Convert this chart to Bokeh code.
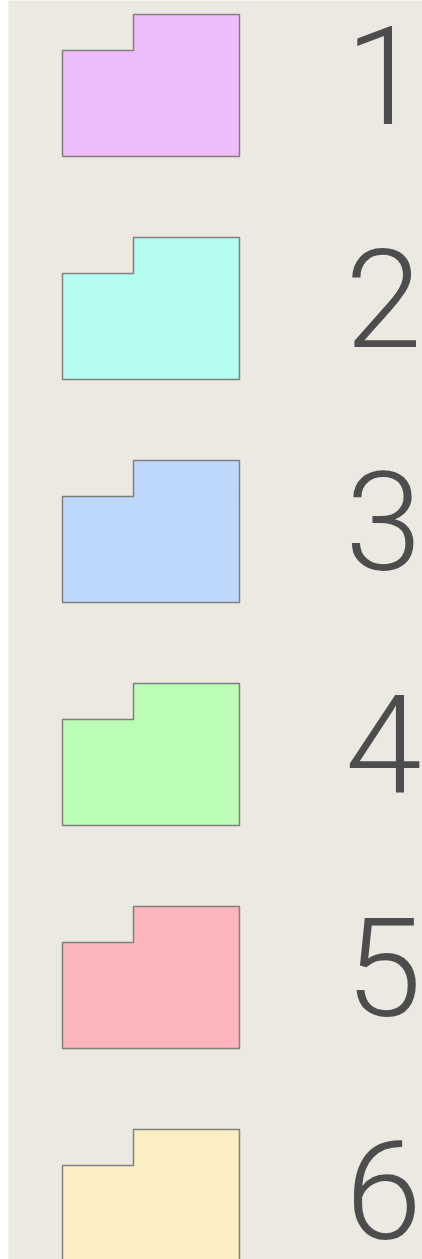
from bokeh.plotting import figure
from bokeh.models import Range1d, ColumnDataSource
from bokeh.core.properties import value
from bokeh.embed import file_html
from bokeh.resources import INLINE

# ---- data ----
labels = ["1", "2", "3", "4", "5", "6"]
colors = ["#EEBBFC", "#B5FCF1", "#BED7FD", "#BBFDB4", "#FDB5BC", "#FBEEC3"]

W, H = 422, 1259
MARGIN_L = 8
PITCH = 223
TOP0 = 14
# folder-like shape template (relative to item top)
LEFT, RIGHT, STEPX, STEPY, BOTTOM = 54, 231, 125, 36, 142

xs, ys, tx, ty = [], [], [], []
for i, lab in enumerate(labels):
    t = TOP0 + PITCH * i
    xs.append([LEFT, LEFT, STEPX, STEPX, RIGHT, RIGHT])
    ys.append([t + BOTTOM, t + STEPY, t + STEPY, t, t, t + BOTTOM])
    tx.append(375)
    ty.append(t + 60)

src = ColumnDataSource(dict(xs=xs, ys=ys, color=colors))
tsrc = ColumnDataSource(dict(x=tx, y=ty, text=labels))

p = figure(width=W, height=H, output_backend="svg", toolbar_location=None,
           x_range=Range1d(0, W - MARGIN_L), y_range=Range1d(H, 0),
           min_border=0, min_border_left=MARGIN_L, min_border_right=0,
           min_border_top=0, min_border_bottom=0)
p.axis.visible = False
p.grid.visible = False
p.outline_line_color = None
p.background_fill_color = "#ECE9E2"
p.border_fill_color = "white"

p.patches("xs", "ys", source=src, fill_color="color", line_color="#808080",
          line_width=1.5)
p.text("x", "y", text="text", source=tsrc, text_align="center",
       text_baseline="alphabetic", text_font=value("Roboto Light, Roboto"),
       text_font_size="138px", text_color="#4D4D4D")

open("out.html", "w").write(file_html(p, INLINE))
